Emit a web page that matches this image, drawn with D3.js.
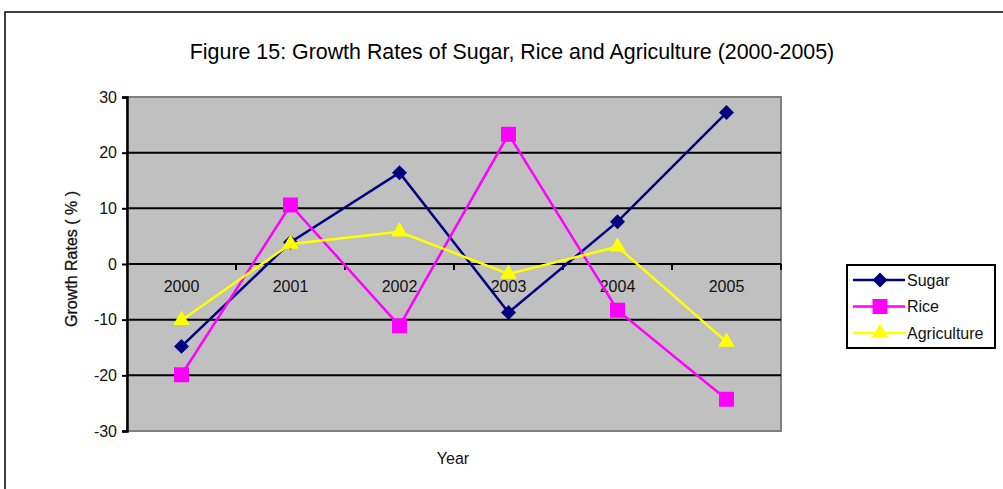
<!DOCTYPE html>
<html><head><meta charset="utf-8">
<script src="https://cdn.jsdelivr.net/npm/d3@7"></script>
<style>body{margin:0;background:#fff}svg{display:block;font-family:"Liberation Sans",Arial,sans-serif}</style>
</head><body><svg id="c" width="1003" height="489"></svg>
<script>
const years = ["2000","2001","2002","2003","2004","2005"];
const sugar = [-14.8, 3.9, 16.4, -8.7, 7.6, 27.2];
const rice = [-19.9, 10.6, -11.1, 23.3, -8.3, -24.3];
const agriculture = [-10.1, 3.6, 5.8, -1.8, 3.1, -14.0];
const yTicks = [30, 20, 10, 0, -10, -20, -30];
const seriesNames = ["Sugar", "Rice", "Agriculture"];
const seriesColors = ["#000080", "#ff00ff", "#ffff00"];
const seriesShapes = [d3.symbolSquare, d3.symbolSquare, d3.symbolTriangle];

const svg = d3.select("#c");
svg.append("rect").attr("x",5).attr("y",12).attr("width",1010).attr("height",500)
  .attr("fill","#fff").attr("stroke","#000").attr("stroke-width",1.5);

svg.append("text").attr("x",512).attr("y",59).attr("text-anchor","middle")
  .attr("font-size",21.4).text("Figure 15: Growth Rates of Sugar, Rice and Agriculture (2000-2005)");

const L=127,R=781,T=97,B=431;
const x = d3.scaleBand().domain(years).range([L,R]);
const y = d3.scaleLinear().domain([-30,30]).range([B,T]);

svg.append("rect").attr("x",L).attr("y",T).attr("width",R-L).attr("height",B-T)
  .attr("fill","#c0c0c0").attr("stroke","#808080").attr("stroke-width",2);

svg.append("g").selectAll("line").data(yTicks.filter(v=>v>-30&&v<30)).join("line")
  .attr("x1",L).attr("x2",R).attr("y1",d=>y(d)).attr("y2",d=>y(d))
  .attr("stroke","#000").attr("stroke-width",2);

const ya = svg.append("g").attr("transform",`translate(${L},0)`)
  .call(d3.axisLeft(y).tickValues(yTicks).tickSize(5).tickPadding(5).tickFormat(d=>String(d)));
ya.select(".domain").attr("stroke","#000").attr("stroke-width",2.5);
ya.selectAll(".tick line").attr("stroke","#000").attr("stroke-width",2);
ya.selectAll("text").attr("font-size",16).attr("font-family","Liberation Sans, Arial, sans-serif").attr("fill","#111");

const xa = svg.append("g").attr("transform",`translate(0,${y(0)})`)
  .call(d3.axisBottom(x).tickSize(0).tickPadding(17));
xa.select(".domain").remove();
xa.selectAll("text").attr("font-size",16).attr("font-family","Liberation Sans, Arial, sans-serif").attr("fill","#111");
svg.append("g").selectAll("line").data(years.slice(1)).join("line")
  .attr("x1",d=>x(d)).attr("x2",d=>x(d)).attr("y1",y(0)).attr("y2",y(0)+6)
  .attr("stroke","#000").attr("stroke-width",2);
svg.append("line").attr("x1",R).attr("x2",R).attr("y1",y(0)).attr("y2",y(0)+6).attr("stroke","#000").attr("stroke-width",2);

svg.append("text").attr("transform",`translate(77,${259}) rotate(-90)`).attr("text-anchor","middle")
  .attr("font-size",16).attr("fill","#111").attr("stroke","#111").attr("stroke-width",0.3).text("Growth Rates ( % )");
svg.append("text").attr("x",453).attr("y",464).attr("text-anchor","middle").attr("font-size",16).attr("fill","#111").text("Year");

const allSeries = [sugar, rice, agriculture];
const line = d3.line().x((d,i)=>x(years[i])+x.bandwidth()/2).y(d=>y(d));
const sizes = [112, 225, 120];
const rot = [45, 0, 0];
allSeries.forEach((vals,k)=>{
  const g = svg.append("g");
  g.append("path").attr("d",line(vals)).attr("fill","none").attr("stroke",seriesColors[k]).attr("stroke-width",2.5);
  g.selectAll("path.m").data(vals).join("path").attr("class","m")
    .attr("transform",(d,i)=>`translate(${x(years[i])+x.bandwidth()/2},${y(d)}) rotate(${rot[k]})`)
    .attr("d",d3.symbol().type(seriesShapes[k]).size(sizes[k])).attr("fill",seriesColors[k]);
});

const lg = svg.append("g");
lg.append("rect").attr("x",847).attr("y",265).attr("width",148).attr("height",83)
  .attr("fill","#fff").attr("stroke","#000").attr("stroke-width",2);
seriesNames.forEach((n,k)=>{
  const yy = 280 + k*26.5;
  lg.append("line").attr("x1",853).attr("x2",905).attr("y1",yy).attr("y2",yy).attr("stroke",seriesColors[k]).attr("stroke-width",2.5);
  lg.append("path").attr("transform",`translate(880,${yy}) rotate(${rot[k]})`).attr("d",d3.symbol().type(seriesShapes[k]).size(sizes[k])).attr("fill",seriesColors[k]);
  lg.append("text").attr("x",907).attr("y",yy+5.5).attr("font-size",16).attr("fill","#111").text(n);
});
</script></body></html>
